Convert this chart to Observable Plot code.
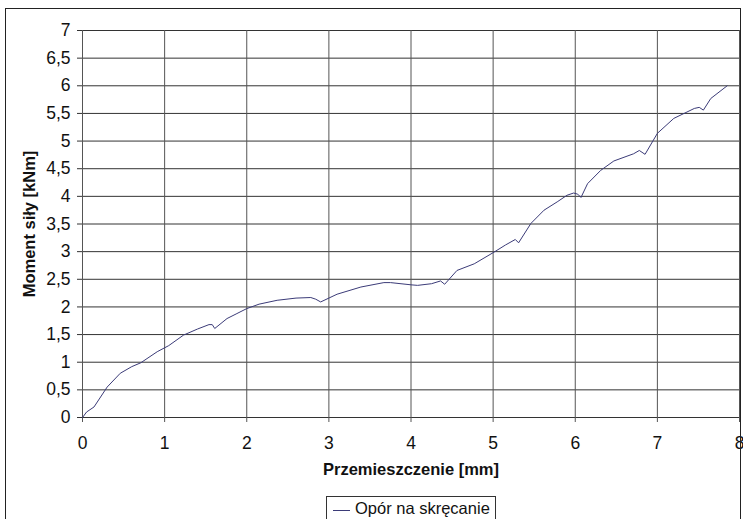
<!DOCTYPE html>
<html>
<head>
<meta charset="utf-8">
<script src="https://cdn.jsdelivr.net/npm/d3@7"></script>
<script src="https://cdn.jsdelivr.net/npm/@observablehq/plot@0.6"></script>
<style>
  html, body { margin: 0; padding: 0; background: #fff; overflow: hidden; }
  #wrap { position: relative; width: 743px; height: 519px; font-family: "Liberation Sans", Arial, sans-serif; }
  #frame { position: absolute; left: 5px; top: 8px; width: 736px; height: 540px; border: 1px solid #222; box-sizing: border-box; pointer-events: none; }
  #legend { position: absolute; left: 326px; top: 496px; width: 170px; height: 32px; border: 1px solid #333; background: #fff; box-sizing: border-box; display: flex; align-items: flex-start; padding-top: 2px; }
  #legend .sw { display: inline-block; width: 17px; height: 0; border-top: 1px solid #3b3b78; margin: 11px 5px 0 6px; }
  #legend .tx { font-size: 16.5px; color: #111; }
  #chart { position: absolute; left: 0; top: 0; }
</style>
</head>
<body>
<div id="wrap">
  <div id="chart"></div>
  <div id="frame"></div>
  <div id="legend"><span class="sw"></span><span class="tx">Opór na skręcanie</span></div>
</div>
<script>
const seriesName = "Opór na skręcanie";
const displacement = [0, 0.05, 0.14, 0.30, 0.46, 0.60, 0.71, 0.91, 1.05, 1.23, 1.40, 1.54, 1.58, 1.61, 1.76, 1.88, 2.0, 2.15, 2.37, 2.60, 2.78, 2.84, 2.90, 3.10, 3.39, 3.67, 3.75, 4.0, 4.08, 4.25, 4.36, 4.41, 4.56, 4.77, 5.01, 5.15, 5.27, 5.31, 5.46, 5.62, 5.78, 5.90, 5.98, 6.03, 6.07, 6.15, 6.31, 6.47, 6.71, 6.78, 6.85, 7.0, 7.20, 7.45, 7.51, 7.56, 7.65, 7.85];
const moment =       [0, 0.10, 0.19, 0.55, 0.80, 0.92, 0.99, 1.19, 1.30, 1.49, 1.60, 1.68, 1.68, 1.61, 1.79, 1.88, 1.97, 2.05, 2.12, 2.16, 2.17, 2.14, 2.09, 2.23, 2.36, 2.44, 2.44, 2.40, 2.39, 2.42, 2.47, 2.41, 2.66, 2.78, 2.99, 3.12, 3.22, 3.16, 3.51, 3.75, 3.90, 4.02, 4.06, 4.04, 3.98, 4.23, 4.47, 4.64, 4.77, 4.83, 4.76, 5.14, 5.41, 5.59, 5.61, 5.56, 5.77, 6.0];
const xTicks = [0, 1, 2, 3, 4, 5, 6, 7, 8];
const yTicks = [0, 0.5, 1, 1.5, 2, 2.5, 3, 3.5, 4, 4.5, 5, 5.5, 6, 6.5, 7];
const xLabel = "Przemieszczenie [mm]";
const yLabel = "Moment siły [kNm]";

const data = displacement.map((x, i) => ({x, y: moment[i], s: seriesName}));
const fmt = d => String(d).replace(".", ",");

const chart = Plot.plot({
  width: 743,
  height: 519,
  marginLeft: 82,
  marginRight: 4,
  marginTop: 30,
  marginBottom: 102,
  style: { fontFamily: "Liberation Sans, Arial, sans-serif", color: "#111", background: "transparent" },
  x: { domain: [0, 8], ticks: xTicks, label: null },
  y: { domain: [0, 7], ticks: yTicks, label: null },
  marks: [
    Plot.gridY(yTicks, { stroke: "#333", strokeOpacity: 1, strokeWidth: 1 }),
    Plot.gridX(xTicks, { stroke: "#555", strokeOpacity: 1, strokeWidth: 1 }),
    Plot.axisX(xTicks, { tickSize: 5, stroke: "#555", tickFormat: () => "" }),
    Plot.axisY(yTicks, { tickSize: 5, stroke: "#333", tickFormat: () => "" }),
    Plot.text(xTicks, { x: d => d, y: 0, text: fmt, dy: 26, fontSize: 17.5, fill: "#111" }),
    Plot.text(yTicks, { x: 0, y: d => d, text: fmt, textAnchor: "end", dx: -12, fontSize: 17.5, fill: "#111" }),
    Plot.line(data, { x: "x", y: "y", stroke: "#3b3b78", strokeWidth: 1 }),
    Plot.text([xLabel], { frameAnchor: "bottom", dy: 57, text: d => d, fontSize: 16.5, fontWeight: "bold", fill: "#111" }),
    Plot.text([yLabel], { frameAnchor: "left", dx: -53, rotate: -90, textAnchor: "middle", text: d => d, fontSize: 16.5, fontWeight: "bold", fill: "#111" })
  ]
});
document.getElementById("chart").appendChild(chart);
</script>
</body>
</html>
